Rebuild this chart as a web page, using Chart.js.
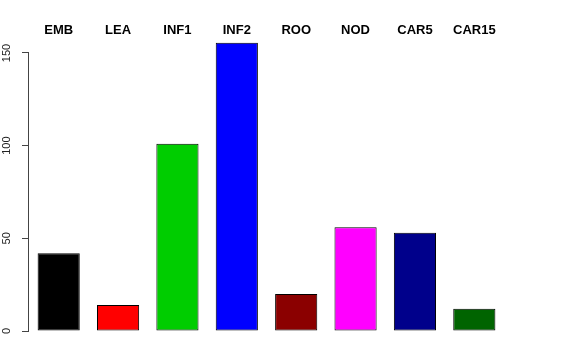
<!DOCTYPE html>
<html>
<head>
<meta charset="utf-8">
<script src="https://cdn.jsdelivr.net/npm/chart.js@4"></script>
<style>
  html, body { margin: 0; padding: 0; background: #fff; }
</style>
</head>
<body>
<canvas id="grafBarras" width="576" height="360"></canvas>
<script>
// Datos del grafico
var categorias = ['EMB', 'LEA', 'INF1', 'INF2', 'ROO', 'NOD', 'CAR5', 'CAR15'];
var valores = [42, 14, 101, 155.5, 20, 56, 53, 12];
var colores = ['#000000', '#FF0000', '#00CD00', '#0000FF', '#8B0000', '#FF00FF', '#00008B', '#006400'];
var yTicks = [0, 50, 100, 150];

// eje Y al estilo R (linea de 0 a 150, etiquetas giradas) y nombres arriba
var ejeR = {
    id: 'ejeR',
    afterDraw: function (chart) {
        var ctx = chart.ctx;
        var x = chart.scales.x;
        var y = chart.scales.y;
        var x0 = chart.chartArea.left - 0.5;
        ctx.save();
        ctx.strokeStyle = '#444';
        ctx.lineWidth = 1;
        ctx.beginPath();
        ctx.moveTo(x0, y.getPixelForValue(yTicks[0]));
        ctx.lineTo(x0, y.getPixelForValue(yTicks[yTicks.length - 1]));
        ctx.stroke();
        ctx.font = '11px "Liberation Sans", Arial, sans-serif';
        ctx.fillStyle = '#222';
        ctx.textAlign = 'center';
        ctx.textBaseline = 'middle';
        yTicks.forEach(function (v) {
            ctx.save();
            ctx.translate(7, y.getPixelForValue(v));
            ctx.rotate(-Math.PI / 2);
            ctx.fillText(String(v), 0, 0);
            ctx.restore();
        });
        ctx.font = 'bold 13px "Liberation Sans", Arial, sans-serif';
        ctx.fillStyle = '#000';
        categorias.forEach(function (c, i) {
            ctx.fillText(c, x.getPixelForValue(i), 30);
        });
        ctx.restore();
    }
};

var ctxB = document.getElementById('grafBarras').getContext('2d');
var chart = new Chart(ctxB, {
    type: 'bar',
    data: {
        labels: categorias,
        datasets: [{
            data: valores,
            backgroundColor: colores,
            borderColor: '#000',
            borderWidth: 1,
            borderSkipped: false,
            categoryPercentage: 1,
            barPercentage: 0.71
        }]
    },
    options: {
        responsive: false,
        animation: false,
        layout: { padding: { top: 40, right: 72, bottom: 29, left: 0 } },
        plugins: { legend: { display: false }, tooltip: { enabled: false } },
        scales: {
            x: { display: false },
            y: {
                min: 0,
                max: 157,
                afterBuildTicks: function (axis) {
                    axis.ticks = yTicks.map(function (v) { return { value: v }; });
                },
                afterFit: function (axis) { axis.width = 29; },
                border: { display: false },
                grid: { drawOnChartArea: false, drawTicks: true, tickLength: 7, color: '#444' },
                ticks: { display: false }
            }
        }
    },
    plugins: [ejeR]
});
</script>
</body>
</html>
